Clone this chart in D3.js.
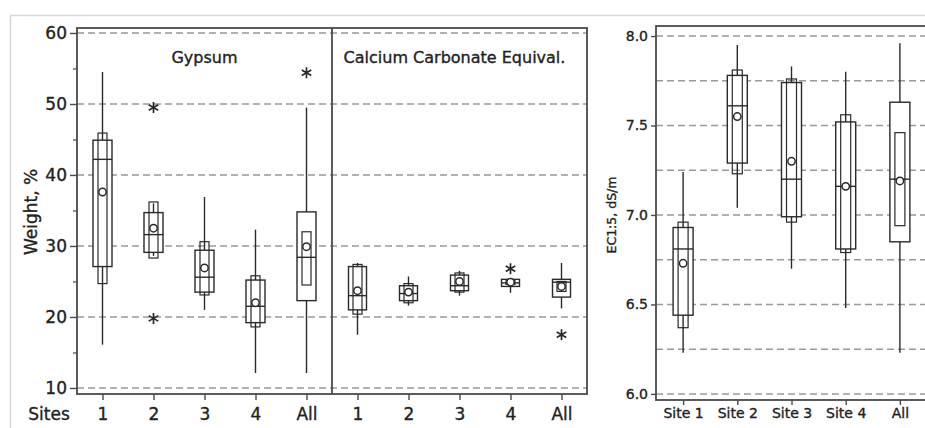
<!DOCTYPE html>
<html>
<head>
<meta charset="utf-8">
<script src="https://cdn.jsdelivr.net/npm/d3@7"></script>
<style>
  body { margin: 0; background: #fff; }
  svg { display: block; font-family: "DejaVu Sans", sans-serif; }
  svg text { stroke: #222; stroke-width: 0.35px; }
</style>
</head>
<body>
<div id="chart"></div>
<script>
// ---- data ----
const siteLabels = ["1", "2", "3", "4", "All"];
const ecSiteLabels = ["Site 1", "Site 2", "Site 3", "Site 4", "All"];

// Gypsum (weight %)
const gypWhiskerLo = [16.1, 28.6, 21.0, 12.1, 12.1];
const gypWhiskerHi = [54.5, 36.0, 36.9, 32.3, 49.5];
const gypQ1 = [27.1, 29.1, 23.5, 19.2, 22.3];
const gypQ3 = [44.9, 34.7, 29.4, 25.2, 34.8];
const gypMedian = [42.2, 31.6, 25.6, 21.5, 28.4];
const gypCiLo = [24.7, 28.3, 23.1, 18.6, 24.5];
const gypCiHi = [45.9, 36.2, 30.6, 25.8, 32.0];
const gypMean = [37.6, 32.5, 26.9, 22.0, 29.9];
const gypOutliers = [[], [49.5, 19.8], [], [], [54.4]];

// Calcium carbonate equivalent (weight %)
const cceWhiskerLo = [17.5, 21.6, 23.0, 23.4, 21.2];
const cceWhiskerHi = [27.6, 25.7, 26.5, 25.5, 27.6];
const cceQ1 = [21.0, 22.3, 23.7, 24.3, 22.8];
const cceQ3 = [27.1, 24.4, 25.9, 25.3, 25.3];
const cceMedian = [23.0, 23.3, 24.4, 24.8, 24.9];
const cceCiLo = [20.4, 22.0, 23.5, 24.6, 23.6];
const cceCiHi = [27.4, 24.7, 26.2, 25.1, 25.0];
const cceMean = [23.7, 23.5, 25.0, 24.9, 24.3];
const cceOutliers = [[], [], [], [26.8], [17.5]];

// EC1:5 (dS/m)
const ecWhiskerLo = [6.23, 7.04, 6.70, 6.48, 6.23];
const ecWhiskerHi = [7.24, 7.95, 7.83, 7.80, 7.96];
const ecQ1 = [6.44, 7.29, 6.99, 6.81, 6.85];
const ecQ3 = [6.93, 7.78, 7.74, 7.52, 7.63];
const ecMedian = [6.81, 7.61, 7.20, 7.16, 7.20];
const ecCiLo = [6.37, 7.23, 6.96, 6.79, 6.94];
const ecCiHi = [6.96, 7.81, 7.76, 7.56, 7.46];
const ecMean = [6.73, 7.55, 7.30, 7.16, 7.19];
const ecOutliers = [[], [], [], [], []];

const leftTicks = [10, 20, 30, 40, 50, 60];
const leftMinor = [15, 25, 35, 45, 55];
const ecTicks = [6.0, 6.5, 7.0, 7.5, 8.0];
const ecGrid = [6.0, 6.25, 6.5, 6.75, 7.0, 7.25, 7.5, 7.75, 8.0];

function makeRows(labels, wlo, whi, q1, q3, med, clo, chi, mean, outl) {
    return labels.map((s, i) => ({
        site: s, wlo: wlo[i], whi: whi[i], q1: q1[i], q3: q3[i],
        med: med[i], clo: clo[i], chi: chi[i], mean: mean[i], out: outl[i]
    }));
}

const gypRows = makeRows(siteLabels, gypWhiskerLo, gypWhiskerHi, gypQ1, gypQ3, gypMedian, gypCiLo, gypCiHi, gypMean, gypOutliers);
const cceRows = makeRows(siteLabels, cceWhiskerLo, cceWhiskerHi, cceQ1, cceQ3, cceMedian, cceCiLo, cceCiHi, cceMean, cceOutliers);
const ecRows = makeRows(ecSiteLabels, ecWhiskerLo, ecWhiskerHi, ecQ1, ecQ3, ecMedian, ecCiLo, ecCiHi, ecMean, ecOutliers);

const W = 925, H = 428;
const ink = "#2a2a2a";
const frameInk = "#4a4a4a";
const gridInk = "#999";

const svg = d3.select("#chart").append("svg")
    .attr("width", W)
    .attr("height", H);

// light picture border
svg.append("line").attr("x1", 10).attr("x2", W).attr("y1", 15.5).attr("y2", 15.5)
    .attr("stroke", "#d6d6d6").attr("stroke-width", 1.5);
svg.append("line").attr("x1", 10.5).attr("x2", 10.5).attr("y1", 15).attr("y2", H)
    .attr("stroke", "#d6d6d6").attr("stroke-width", 1.5);

function drawBoxes(g, rows, x, y, wide, narrow) {
    const b = g.selectAll(".box").data(rows).enter().append("g").attr("class", "box");
    // whiskers
    b.append("line")
        .attr("x1", d => x(d.site)).attr("x2", d => x(d.site))
        .attr("y1", d => y(d.whi)).attr("y2", d => y(d.q3))
        .attr("stroke", ink).attr("stroke-width", 1.4);
    b.append("line")
        .attr("x1", d => x(d.site)).attr("x2", d => x(d.site))
        .attr("y1", d => y(d.q1)).attr("y2", d => y(d.wlo))
        .attr("stroke", ink).attr("stroke-width", 1.4);
    // IQR box
    b.append("rect")
        .attr("x", d => x(d.site) - wide / 2).attr("width", wide)
        .attr("y", d => y(d.q3)).attr("height", d => y(d.q1) - y(d.q3))
        .attr("fill", "#fff").attr("stroke", ink).attr("stroke-width", 1.4);
    // median CI box
    b.append("rect")
        .attr("x", d => x(d.site) - narrow / 2).attr("width", narrow)
        .attr("y", d => y(d.chi)).attr("height", d => y(d.clo) - y(d.chi))
        .attr("fill", "none").attr("stroke", ink).attr("stroke-width", 1.2);
    // median
    b.append("line")
        .attr("x1", d => x(d.site) - wide / 2).attr("x2", d => x(d.site) + wide / 2)
        .attr("y1", d => y(d.med)).attr("y2", d => y(d.med))
        .attr("stroke", ink).attr("stroke-width", 1.4);
    // mean
    b.append("circle")
        .attr("cx", d => x(d.site)).attr("cy", d => y(d.mean)).attr("r", 3.7)
        .attr("fill", "#fff").attr("stroke", ink).attr("stroke-width", 1.5);
    // outliers
    b.selectAll(".out").data(d => d.out.map(v => ({ site: d.site, v }))).enter()
        .append("path")
        .attr("class", "out")
        .attr("transform", d => `translate(${x(d.site)},${y(d.v)})`)
        .attr("d", d3.symbol(d3.symbolAsterisk, 85))
        .attr("fill", "none").attr("stroke", ink).attr("stroke-width", 1.7);
}

// ---------- left figure: Gypsum | Calcium Carbonate Equival. ----------
const L = { left: 77, right: 587, top: 28, bottom: 394, mid: 332 };

const yL = d3.scaleLinear().domain([9.15, 60.7]).range([L.bottom, L.top]);
const xGyp = d3.scalePoint().domain(siteLabels).range([L.left, L.mid]).padding(0.5);
const xCce = d3.scalePoint().domain(siteLabels).range([L.mid, L.right]).padding(0.5);

const gl = svg.append("g");

gl.selectAll(".grid").data(leftTicks).enter().append("line")
    .attr("x1", L.left).attr("x2", L.right)
    .attr("y1", d => yL(d)).attr("y2", d => yL(d))
    .attr("stroke", gridInk).attr("stroke-width", 1.5).attr("stroke-dasharray", "7,4");

const yAxisL = d3.axisLeft(yL).tickValues(leftTicks).tickSize(7).tickPadding(3).tickFormat(d3.format("d"));
gl.append("g").attr("transform", `translate(${L.left},0)`).call(yAxisL)
    .call(a => a.select(".domain").remove())
    .call(a => a.selectAll("line").attr("stroke", frameInk).attr("stroke-width", 1.4))
    .call(a => a.selectAll("text").attr("font-size", 17).attr("fill", "#222").attr("font-family", "DejaVu Sans"));
gl.append("g").attr("transform", `translate(${L.left},0)`)
    .call(d3.axisLeft(yL).tickValues(leftMinor).tickSize(4).tickFormat(""))
    .call(a => a.select(".domain").remove())
    .call(a => a.selectAll("line").attr("stroke", frameInk).attr("stroke-width", 1.2));

[xGyp, xCce].forEach(sc => {
    gl.append("g").attr("transform", `translate(0,${L.bottom})`)
        .call(d3.axisBottom(sc).tickSize(6).tickPadding(8))
        .call(a => a.select(".domain").remove())
        .call(a => a.selectAll("line").attr("stroke", frameInk).attr("stroke-width", 1.4))
        .call(a => a.selectAll("text").attr("font-size", 17).attr("fill", "#222").attr("font-family", "DejaVu Sans"));
});

gl.append("rect")
    .attr("x", L.left).attr("y", L.top)
    .attr("width", L.right - L.left).attr("height", L.bottom - L.top)
    .attr("fill", "none").attr("stroke", frameInk).attr("stroke-width", 1.8);
gl.append("line")
    .attr("x1", L.mid).attr("x2", L.mid).attr("y1", L.top).attr("y2", L.bottom)
    .attr("stroke", frameInk).attr("stroke-width", 1.8);

gl.append("text").attr("x", (L.left + L.mid) / 2).attr("y", 63)
    .attr("text-anchor", "middle").attr("font-size", 16).attr("fill", "#222").text("Gypsum");
gl.append("text").attr("x", (L.mid + L.right) / 2 - 5).attr("y", 63)
    .attr("text-anchor", "middle").attr("font-size", 16).attr("fill", "#222").text("Calcium Carbonate Equival.");

gl.append("text").attr("transform", "translate(37,212) rotate(-90)")
    .attr("text-anchor", "middle").attr("font-size", 17).attr("fill", "#222").text("Weight, %");
gl.append("text").attr("x", 49).attr("y", 420)
    .attr("text-anchor", "middle").attr("font-size", 17).attr("fill", "#222").text("Sites");

drawBoxes(gl.append("g"), gypRows, xGyp, yL, 19, 9);
drawBoxes(gl.append("g"), cceRows, xCce, yL, 18, 9);

// ---------- right figure: EC1:5 ----------
const R = { left: 656, right: 927, top: 26, bottom: 400 };
const yR = d3.scaleLinear().domain([5.966, 8.056]).range([R.bottom, R.top]);
const xR = d3.scalePoint().domain(ecSiteLabels).range([R.left, R.right]).padding(0.5);

const gr = svg.append("g");

gr.selectAll(".grid").data(ecGrid).enter().append("line")
    .attr("x1", R.left).attr("x2", R.right)
    .attr("y1", d => yR(d)).attr("y2", d => yR(d))
    .attr("stroke", gridInk).attr("stroke-width", 1.5).attr("stroke-dasharray", "7,4");

gr.append("g").attr("transform", `translate(${R.left},0)`)
    .call(d3.axisLeft(yR).tickValues(ecTicks).tickSize(5).tickPadding(3).tickFormat(d3.format(".1f")))
    .call(a => a.select(".domain").remove())
    .call(a => a.selectAll("line").attr("stroke", frameInk).attr("stroke-width", 1.4))
    .call(a => a.selectAll("text").attr("font-size", 14).attr("fill", "#222").attr("font-family", "DejaVu Sans"));

gr.append("g").attr("transform", `translate(0,${R.bottom})`)
    .call(d3.axisBottom(xR).tickSize(5).tickPadding(3))
    .call(a => a.select(".domain").remove())
    .call(a => a.selectAll("line").attr("stroke", frameInk).attr("stroke-width", 1.4))
    .call(a => a.selectAll("text").attr("font-size", 14).attr("fill", "#222").attr("font-family", "DejaVu Sans"));

gr.append("rect")
    .attr("x", R.left).attr("y", R.top)
    .attr("width", R.right - R.left).attr("height", R.bottom - R.top)
    .attr("fill", "none").attr("stroke", frameInk).attr("stroke-width", 1.8);

gr.append("text").attr("transform", "translate(616,215) rotate(-90)")
    .attr("text-anchor", "middle").attr("font-size", 12.5).attr("fill", "#222").text("EC1:5, dS/m");

drawBoxes(gr.append("g"), ecRows, xR, yR, 20, 10);
</script>
</body>
</html>
